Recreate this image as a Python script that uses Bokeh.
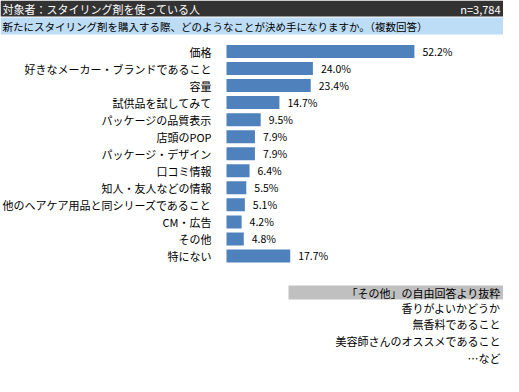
from bokeh.plotting import figure
from bokeh.models import Range1d, ColumnDataSource
from bokeh.core.properties import value
from bokeh.embed import file_html
from bokeh.resources import INLINE

# ---- data ----
categories = ["価格", "好きなメーカー・ブランドであること", "容量", "試供品を試してみて",
              "パッケージの品質表示", "店頭のPOP", "パッケージ・デザイン", "口コミ情報",
              "知人・友人などの情報", "他のヘアケア用品と同シリーズであること", "CM・広告",
              "その他", "特にない"]
values = [52.2, 24.0, 23.4, 14.7, 9.5, 7.9, 7.9, 6.4, 5.5, 5.1, 4.2, 4.8, 17.7]
header_left = "対象者：スタイリング剤を使っている人"
header_right = "n=3,784"
question = "新たにスタイリング剤を購入する際、どのようなことが決め手になりますか。（複数回答）"
other_title = "「その他」の自由回答より抜粋"
other_answers = ["香りがよいかどうか", "無香料であること", "美容師さんのオススメであること", "…など"]

# ---- layout (canvas px) ----
W, H = 503, 376
X0 = 226.0      # px where 0% sits
SX = 3.6        # px per percent
Y0 = 51.0       # px centre of first row
SY = 17.04      # px per row
FONT = value("Noto Sans CJK JP")

def dx(px):
    return (px - X0) / SX

def dy(py):
    return (py - Y0) / SY

p = figure(width=W, height=H, output_backend="svg", toolbar_location=None,
           x_range=Range1d(dx(0), dx(W)), y_range=Range1d(dy(H), dy(0)),
           x_axis_location=None, y_axis_location=None,
           min_border=0, min_border_left=0, min_border_right=0,
           min_border_top=0, min_border_bottom=0)
p.grid.visible = False
p.outline_line_color = None
p.background_fill_color = "white"
p.border_fill_color = "white"

# header bars
p.quad(left=[dx(0)], right=[dx(W)], top=[dy(0)], bottom=[dy(16)],
       fill_color="#333333", line_color=None)
p.quad(left=[dx(0)], right=[dx(W)], top=[dy(17)], bottom=[dy(34)],
       fill_color="#BDDCF6", line_color=None)
p.text(x=[dx(2)], y=[dy(8.5)], text=[header_left], text_font=FONT,
       text_font_size="11px", text_color="white", text_baseline="middle", text_align="left")
p.text(x=[dx(W - 3)], y=[dy(8.5)], text=[header_right], text_font=FONT,
       text_font_size="11px", text_color="white", text_baseline="middle", text_align="right")
p.text(x=[dx(2)], y=[dy(26)], text=[question], text_font=FONT,
       text_font_size="10.5px", text_color="black", text_baseline="middle", text_align="left")

# bars
src = ColumnDataSource(dict(y=list(range(len(categories))), v=values, cat=categories,
                            lab=[f"{v:.1f}%" for v in values]))
p.hbar(y="y", left=0, right="v", height=13 / SY, source=src,
       fill_color="#4F81BD", line_color=None)
p.text(x=0, y="y", text="cat", source=src, x_offset=-15, text_align="right",
       text_baseline="middle", text_font=FONT, text_font_size="11px", text_color="black")
p.text(x="v", y="y", text="lab", source=src, x_offset=8, text_align="left",
       text_baseline="middle", text_font=FONT, text_font_size="10.5px", text_color="black")

# "other" box
p.quad(left=[dx(288)], right=[dx(W)], top=[dy(285)], bottom=[dy(299)],
       fill_color="#C0C0C0", line_color=None)
p.text(x=[dx(W - 3)], y=[dy(292)], text=[other_title], text_font=FONT,
       text_font_size="11px", text_color="black", text_baseline="middle", text_align="right")
ans_y = [dy(307 + 16.7 * i) for i in range(len(other_answers))]
p.text(x=[dx(W - 3)] * len(other_answers), y=ans_y, text=other_answers, text_font=FONT,
       text_font_size="11px", text_color="black", text_baseline="middle", text_align="right")

open("out.html", "w").write(file_html(p, INLINE))
